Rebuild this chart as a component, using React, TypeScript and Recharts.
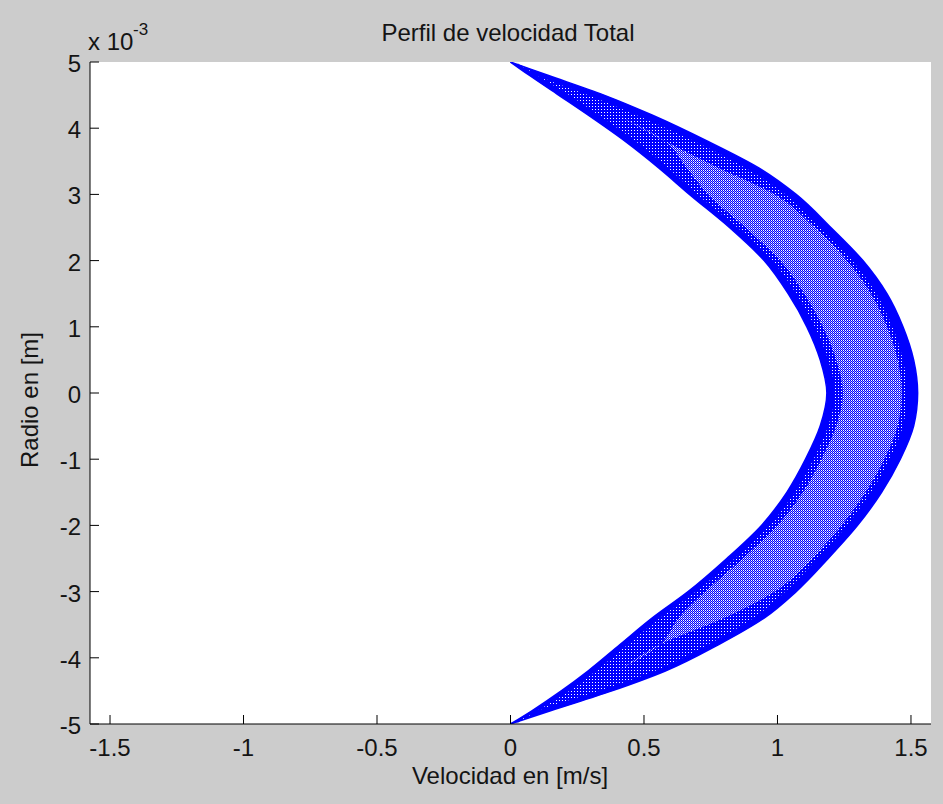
import React from 'react';
import { ComposedChart, Area, XAxis, YAxis, CartesianGrid } from 'recharts';

// Radius (x 10^-3 m)
const radius = [5, 4.8, 4.5, 4.2, 3.8, 3.4, 3.0, 2.5, 2.0, 1.5, 1.0, 0.5, 0, -0.5, -1.0, -1.5, -2.0, -2.5, -3.0, -3.4, -3.8, -4.2, -4.5, -4.8, -5];
// Outer envelope of the velocity profiles (m/s)
const outerVel = [0, 0.14, 0.35, 0.53, 0.74, 0.93, 1.07, 1.20, 1.32, 1.41, 1.47, 1.51, 1.525, 1.51, 1.46, 1.39, 1.30, 1.19, 1.07, 0.95, 0.78, 0.58, 0.38, 0.15, 0];
// Inner envelope of the velocity profiles (m/s)
const innerVel = [0, 0.07, 0.18, 0.29, 0.43, 0.555, 0.67, 0.82, 0.95, 1.04, 1.11, 1.16, 1.185, 1.16, 1.105, 1.035, 0.94, 0.81, 0.665, 0.53, 0.41, 0.29, 0.19, 0.08, 0];
// Region where the individual profiles separate (sparse hatching)
const hatchLow = [0.02, 0.10, 0.22, 0.33, 0.47, 0.59, 0.70, 0.85, 0.98, 1.07, 1.14, 1.19, 1.215, 1.19, 1.135, 1.065, 0.97, 0.84, 0.695, 0.56, 0.44, 0.32, 0.22, 0.10, 0.02];
const hatchHigh = [0.02, 0.10, 0.29, 0.47, 0.69, 0.88, 1.03, 1.16, 1.28, 1.37, 1.43, 1.47, 1.485, 1.47, 1.42, 1.35, 1.26, 1.15, 1.03, 0.91, 0.74, 0.54, 0.33, 0.10, 0.02];
// Dense core of the hatching
const coreLow = [0.02, 0.10, 0.25, 0.40, 0.58, 0.66, 0.74, 0.88, 1.01, 1.10, 1.17, 1.22, 1.245, 1.22, 1.165, 1.095, 1.00, 0.87, 0.73, 0.63, 0.56, 0.40, 0.26, 0.10, 0.02];
const coreHigh = [0.02, 0.10, 0.25, 0.40, 0.58, 0.78, 0.99, 1.14, 1.26, 1.35, 1.41, 1.45, 1.465, 1.45, 1.40, 1.33, 1.24, 1.13, 0.99, 0.80, 0.56, 0.40, 0.26, 0.10, 0.02];

const xTicks = [-1.5, -1, -0.5, 0, 0.5, 1, 1.5];
const yTicks = [-5, -4, -3, -2, -1, 0, 1, 2, 3, 4, 5];
const xDomain = [-1.575, 1.575];
const yDomain = [-5, 5];

const title = 'Perfil de velocidad Total';
const xLabel = 'Velocidad en [m/s]';
const yLabel = 'Radio en [m]';

const data = radius.map((r, i) => ({
  r,
  band: [innerVel[i], outerVel[i]],
  hatch: [hatchLow[i], hatchHigh[i]],
  core: [coreLow[i], coreHigh[i]],
}));

const FONT = '"Liberation Sans", Arial, sans-serif';
const TXT = '#141414';
const TICK = 9;

const BottomTick = (props: any) => {
  const { x, y, payload } = props;
  return (
    <g>
      <line x1={x} x2={x} y1={y} y2={y - TICK} stroke="#000" />
      <text x={x} y={y + 32} textAnchor="middle" fontFamily={FONT} fontSize={24} fill={TXT}>
        {String(payload.value)}
      </text>
    </g>
  );
};
const TopTick = (props: any) => {
  const { x, y } = props;
  return <line x1={x} x2={x} y1={y} y2={y + TICK} stroke="#000" />;
};
const LeftTick = (props: any) => {
  const { x, y, payload } = props;
  return (
    <g>
      <line x1={x} x2={x + TICK} y1={y} y2={y} stroke="#000" />
      <text x={x - 9} y={y + 10} textAnchor="end" fontFamily={FONT} fontSize={24} fill={TXT}>
        {String(payload.value)}
      </text>
    </g>
  );
};
const RightTick = (props: any) => {
  const { x, y } = props;
  return <line x1={x} x2={x - TICK} y1={y} y2={y} stroke="#000" />;
};

export default function App() {
  return (
    <div style={{ position: 'absolute', left: 0, top: 0, width: 943, height: 804, background: '#cccccc', overflow: 'hidden' }}>
      <svg width={0} height={0} style={{ position: 'absolute' }}>
        <defs>
          <pattern id="sparse" x={0} y={0} width={3} height={3} patternUnits="userSpaceOnUse">
            <rect x={0} y={0} width={3} height={3} fill="#0000ff" />
            <rect x={1} y={1} width={1} height={1} fill="#ffffff" />
          </pattern>
          <pattern id="dense" x={0} y={0} width={2} height={2} patternUnits="userSpaceOnUse">
            <rect x={0} y={0} width={2} height={2} fill="#0000ff" />
            <rect x={1} y={0} width={1} height={1} fill="#ffffff" />
            <rect x={0} y={1} width={1} height={1} fill="#9a9aff" />
          </pattern>
        </defs>
      </svg>
      <ComposedChart
        width={943}
        height={804}
        data={data}
        layout="vertical"
        margin={{ top: 62, right: 12, bottom: 0, left: 0 }}
      >
        <CartesianGrid horizontal={false} vertical={false} fill="#ffffff" stroke="none" />
        <XAxis
          type="number"
          domain={xDomain}
          ticks={xTicks}
          height={80}
          tickSize={0}
          tickMargin={0}
          tick={<BottomTick />}
          axisLine={{ stroke: '#000' }}
          allowDataOverflow
          interval={0}
        />
        <XAxis
          xAxisId="top"
          orientation="top"
          type="number"
          domain={xDomain}
          ticks={xTicks}
          height={0}
          tickSize={0}
          tickMargin={0}
          tick={<TopTick />}
          axisLine={{ stroke: '#000' }}
          allowDataOverflow
          interval={0}
        />
        <YAxis
          type="number"
          dataKey="r"
          domain={yDomain}
          ticks={yTicks}
          width={90}
          reversed
          tickSize={0}
          tickMargin={0}
          tick={<LeftTick />}
          axisLine={{ stroke: '#000' }}
          allowDataOverflow
          interval={0}
        />
        <YAxis
          yAxisId="right"
          orientation="right"
          type="number"
          domain={yDomain}
          ticks={yTicks}
          width={0}
          reversed
          tickSize={0}
          tickMargin={0}
          tick={<RightTick />}
          axisLine={{ stroke: '#000' }}
          allowDataOverflow
          interval={0}
        />
        <Area
          dataKey="band"
          type="monotone"
          fill="#0000ff"
          fillOpacity={1}
          stroke="#0000ff"
          strokeWidth={1.5}
          isAnimationActive={false}
          dot={false}
          activeDot={false}
        />
        <Area
          dataKey="hatch"
          type="monotone"
          fill="url(#sparse)"
          fillOpacity={1}
          stroke="none"
          isAnimationActive={false}
          dot={false}
          activeDot={false}
        />
        <Area
          dataKey="core"
          type="monotone"
          fill="url(#dense)"
          fillOpacity={1}
          stroke="none"
          isAnimationActive={false}
          dot={false}
          activeDot={false}
        />
      </ComposedChart>
      <svg width={943} height={804} style={{ position: 'absolute', left: 0, top: 0, pointerEvents: 'none' }}>
        <text x={508} y={41} textAnchor="middle" fontFamily={FONT} fontSize={24} fill={TXT}>{title}</text>
        <text x={510} y={784} textAnchor="middle" fontFamily={FONT} fontSize={24} fill={TXT}>{xLabel}</text>
        <text x={38} y={400} textAnchor="middle" fontFamily={FONT} fontSize={24} fill={TXT} transform="rotate(-90 38 400)">{yLabel}</text>
        <text x={88} y={50} fontFamily={FONT} fontSize={24} fill={TXT}>x 10</text>
        <text x={133} y={35} fontFamily={FONT} fontSize={17} fill={TXT}>-3</text>
      </svg>
    </div>
  );
}
